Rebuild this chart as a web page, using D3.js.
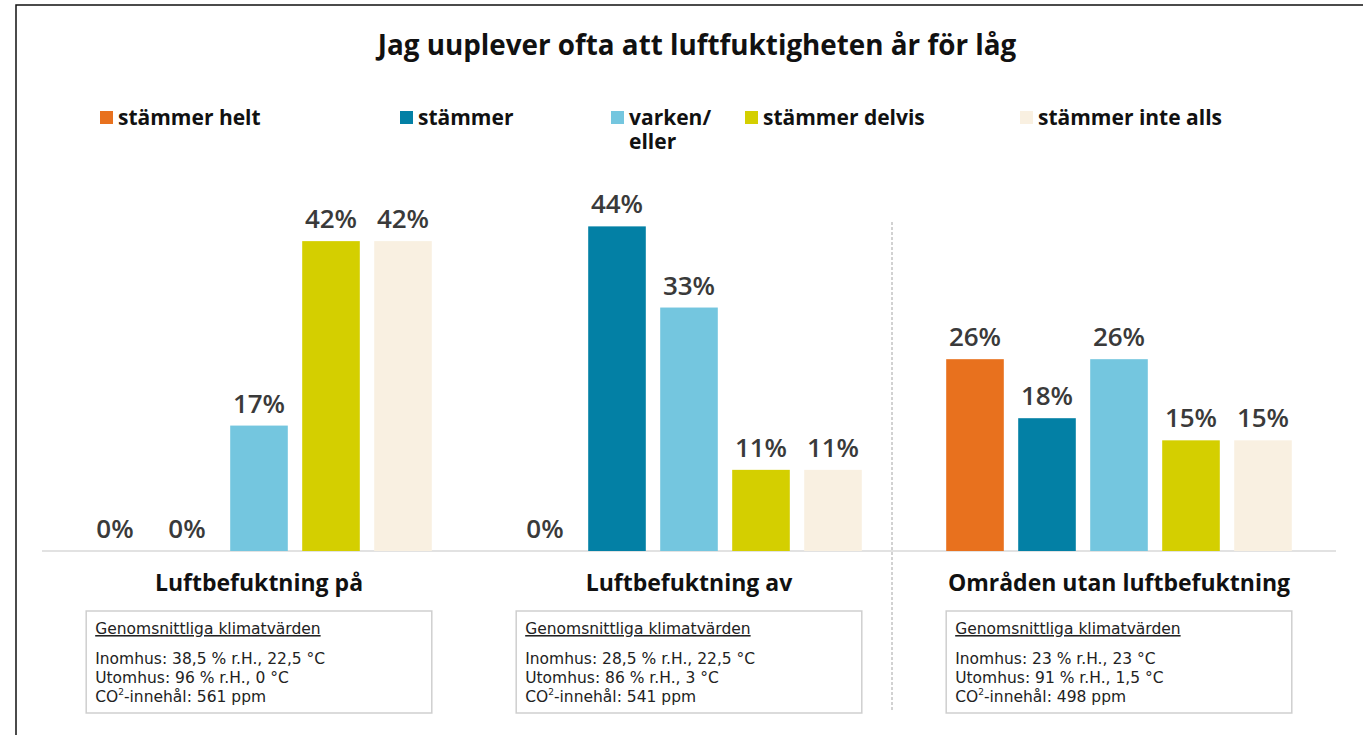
<!DOCTYPE html>
<html>
<head>
<meta charset="utf-8">
<script src="https://cdn.jsdelivr.net/npm/d3@7"></script>
<style>
  body { margin: 0; background: #fff; }
  svg { display: block; font-family: "Open Sans", "Noto Sans", sans-serif; }
</style>
</head>
<body>
<div id="chart"></div>
<script>
// chart data
const title = "Jag uuplever ofta att luftfuktigheten år för låg";
const categories = ["stämmer helt", "stämmer", "varken/ eller", "stämmer delvis", "stämmer inte alls"];
const colors = ["#e8711e", "#0380a5", "#74c6df", "#d4cf00", "#f9f0e1"];
const groups = ["Luftbefuktning på", "Luftbefuktning av", "Områden utan luftbefuktning"];
const valuesPa = [0, 0, 17, 42, 42];
const valuesAv = [0, 44, 33, 11, 11];
const valuesUtan = [26, 18, 26, 15, 15];
const infoHeading = "Genomsnittliga klimatvärden";
const infoPa = ["Inomhus: 38,5 % r.H., 22,5 °C", "Utomhus: 96 % r.H., 0 °C", "561 ppm"];
const infoAv = ["Inomhus: 28,5 % r.H., 22,5 °C", "Utomhus: 86 % r.H., 3 °C", "541 ppm"];
const infoUtan = ["Inomhus: 23 % r.H., 23 °C", "Utomhus: 91 % r.H., 1,5 °C", "498 ppm"];

const allValues = [valuesPa, valuesAv, valuesUtan];
const allInfo = [infoPa, infoAv, infoUtan];

const W = 1363, H = 735;
const svg = d3.select("#chart").append("svg")
    .attr("width", W)
    .attr("height", H);

// frame (top + left)
svg.append("path")
    .attr("d", `M16,${H} V5 H${W}`)
    .attr("fill", "none")
    .attr("stroke", "#111")
    .attr("stroke-width", 1.5);

// title
svg.append("text")
    .attr("x", 697).attr("y", 55)
    .attr("text-anchor", "middle")
    .attr("font-size", 27.8)
    .attr("font-weight", 700)
    .attr("fill", "#111")
    .text(title);

// legend
const legendX = [100, 400, 611, 745, 1020];
const legend = svg.append("g").selectAll("g")
    .data(categories)
    .join("g")
    .attr("transform", (d, i) => `translate(${legendX[i]},0)`);
legend.append("rect")
    .attr("x", 0).attr("y", 111)
    .attr("width", 13).attr("height", 13)
    .attr("fill", (d, i) => colors[i]);
legend.each(function(d) {
    const parts = d.includes("/") ? d.split(" ") : [d];
    d3.select(this).selectAll("text")
        .data(parts)
        .join("text")
        .attr("x", 18)
        .attr("y", (p, i) => 125 + i * 24)
        .attr("font-size", 21)
        .attr("font-weight", 700)
        .attr("fill", "#111")
        .text(p => p);
});

// scales
const baseY = 551;
const y = d3.scaleLinear().domain([0, 45]).range([baseY, 219]);
const x0 = d3.scaleBand().domain(groups).range([44, 1334]);
const x1 = d3.scaleBand().domain(categories).range([35, 395])
    .paddingInner(0.2).paddingOuter(0.1);

// baseline
svg.append("line")
    .attr("x1", 42).attr("x2", 1336)
    .attr("y1", baseY).attr("y2", baseY)
    .attr("stroke", "#e2e2e2")
    .attr("stroke-width", 2);

// divider
svg.append("line")
    .attr("x1", x0(groups[2]) - 12).attr("x2", x0(groups[2]) - 12)
    .attr("y1", 222).attr("y2", 712)
    .attr("stroke", "#c4c4c4")
    .attr("stroke-width", 1.5)
    .attr("stroke-dasharray", "3,2");

const gGroups = svg.append("g").selectAll("g")
    .data(groups)
    .join("g")
    .attr("transform", d => `translate(${x0(d)},0)`);

// bars
gGroups.selectAll("rect.bar")
    .data((g, gi) => categories.map((c, i) => ({ cat: c, value: allValues[gi][i], color: colors[i] })))
    .join("rect")
    .attr("class", "bar")
    .attr("x", d => x1(d.cat))
    .attr("y", d => y(d.value))
    .attr("width", x1.bandwidth())
    .attr("height", d => baseY - y(d.value))
    .attr("fill", d => d.color);

// value labels
gGroups.selectAll("text.val")
    .data((g, gi) => categories.map((c, i) => ({ cat: c, value: allValues[gi][i] })))
    .join("text")
    .attr("class", "val")
    .attr("x", d => x1(d.cat) + x1.bandwidth() / 2)
    .attr("y", d => y(d.value) - 13)
    .attr("text-anchor", "middle")
    .attr("font-size", 26)
    .attr("font-weight", 600)
    .attr("fill", "#3a3a3a")
    .text(d => d.value + "%");

// group titles
gGroups.append("text")
    .attr("x", 215).attr("y", 591)
    .attr("text-anchor", "middle")
    .attr("font-size", 23)
    .attr("font-weight", 700)
    .attr("fill", "#111")
    .text(d => d);

// info boxes
const boxX = x1(categories[0]);
const boxW = x1(categories[4]) + x1.bandwidth() - boxX;
gGroups.append("rect")
    .attr("x", boxX).attr("y", 611)
    .attr("width", boxW).attr("height", 102)
    .attr("fill", "#fff")
    .attr("stroke", "#cfcfcf")
    .attr("stroke-width", 1.5);

const infoFont = "'DejaVu Sans', sans-serif";
gGroups.append("text")
    .attr("x", boxX + 9).attr("y", 634)
    .attr("font-family", infoFont)
    .attr("font-size", 15.5)
    .attr("fill", "#222")
    .attr("text-decoration", "underline")
    .text(infoHeading);

gGroups.each(function(g, gi) {
    const info = allInfo[gi];
    const sel = d3.select(this);
    info.forEach((line, li) => {
        const t = sel.append("text")
            .attr("x", boxX + 9).attr("y", 664 + li * 19)
            .attr("font-family", infoFont)
            .attr("font-size", 15.5)
            .attr("fill", "#222");
        if (li === 2) {
            t.append("tspan").text("CO");
            t.append("tspan").attr("font-size", 9).attr("dy", -7).text("2");
            t.append("tspan").attr("dy", 7).text("-innehål: " + line);
        } else {
            t.text(line);
        }
    });
});
</script>
</body>
</html>
